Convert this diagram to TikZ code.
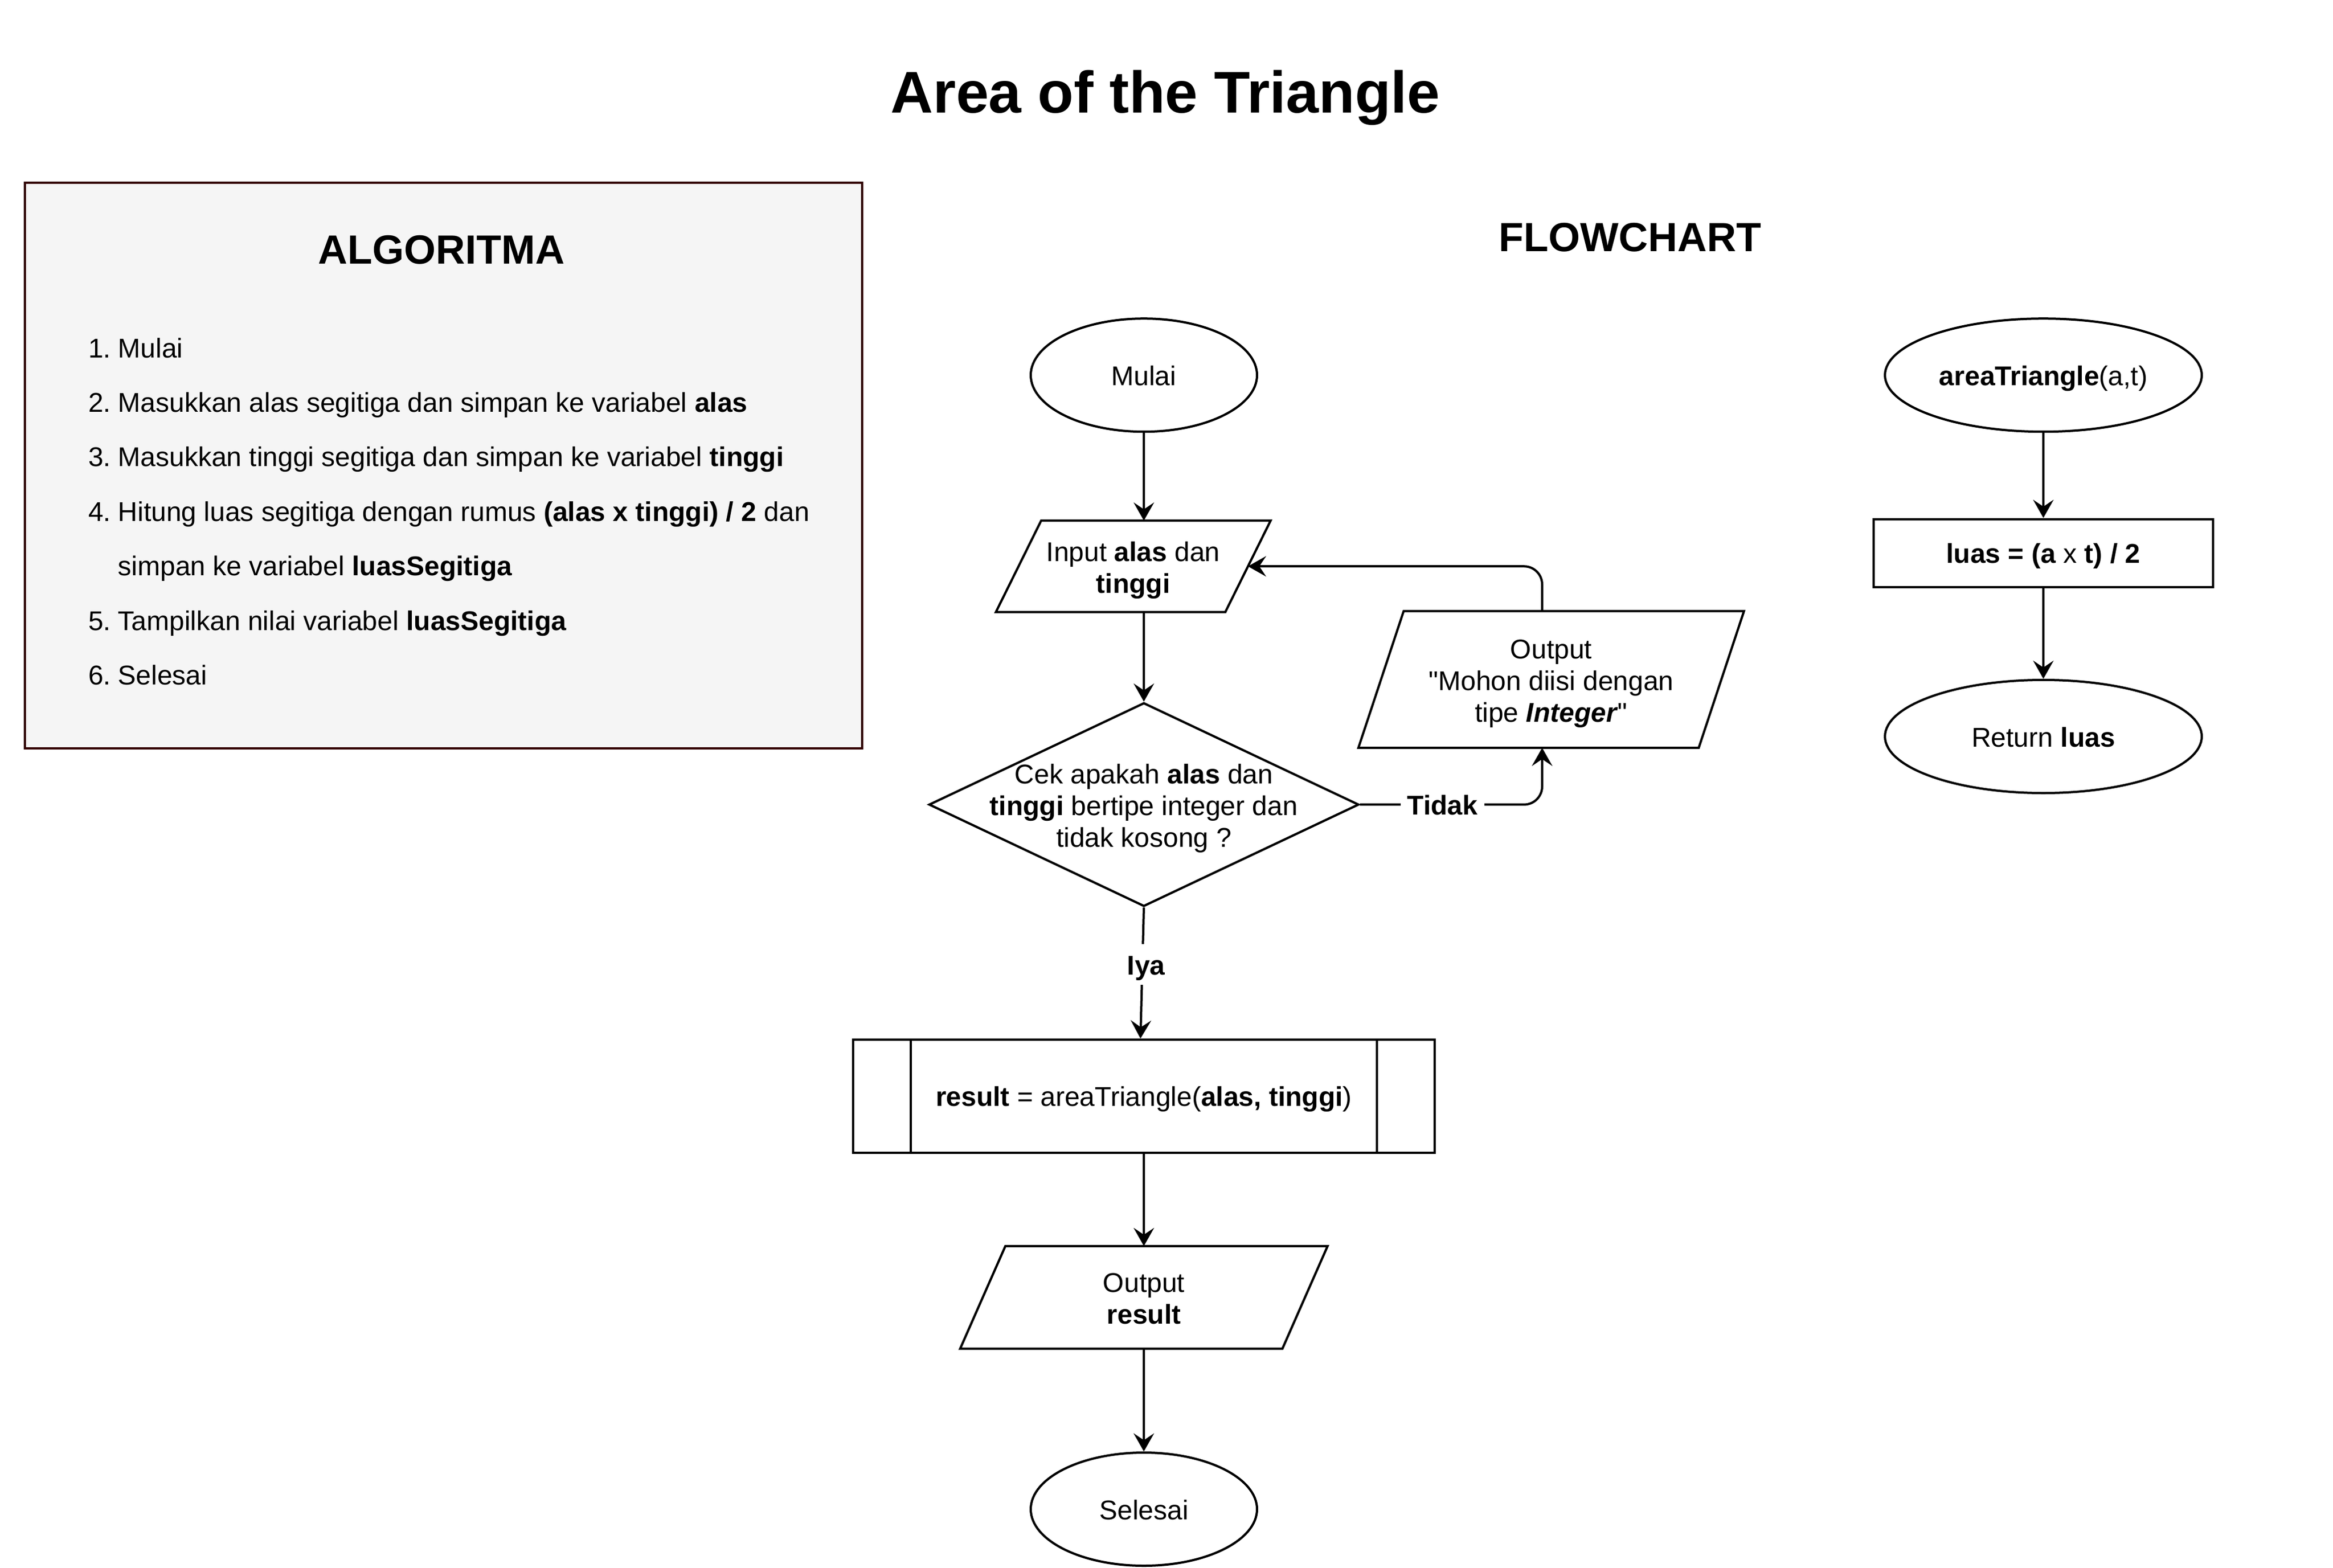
\documentclass[tikz,border=0pt]{standalone}
\usepackage{fontspec}
\setmainfont{Liberation Sans}
\usetikzlibrary{shapes.geometric, arrows.meta}
\definecolor{boxfill}{HTML}{F5F5F5}
\definecolor{boxline}{HTML}{330000}
\font\qfont="Liberation Sans" at 12pt
\newcommand\dq{{\qfont"}}
\newcommand\fstrut{\rule{0pt}{11.5pt}}
\newcommand\lstrut{\rule[-2.3pt]{0pt}{2.3pt}}
\begin{document}
\begin{tikzpicture}[x=1pt, y=-1pt,
  txtm/.style={font=\fontsize{12}{14}\selectfont, align=center, inner sep=0pt},
  txt/.style={font=\fontsize{12}{14}\selectfont, align=center,
    execute at begin node=\fstrut, execute at end node=\lstrut},
  heading/.style={font=\bfseries\fontsize{18}{22}\selectfont, inner sep=0pt, anchor=base},
  item/.style={font=\fontsize{12}{14}\selectfont, inner sep=0pt, anchor=base west},
  term/.style={txt, ellipse, draw, line width=1pt, inner sep=0pt, minimum width=100pt, minimum height=50pt},
  io/.style={inner sep=0pt},
  pline/.style={line width=1pt, line join=miter},
  procbox/.style={txt, draw, line width=1pt, inner sep=0pt},
  arr/.style={line width=1pt, -{Stealth[length=8pt, width=9pt, inset=3pt]}},
  lbl/.style={txt, fill=white, font=\bfseries\fontsize{12}{14}\selectfont, inner sep=3pt}
]
\useasboundingbox (0,0) rectangle (1031,693);

% title
\node[font=\bfseries\fontsize{26}{30}\selectfont, inner sep=0pt, anchor=base] (title) at (515,50) {Area of the Triangle};

% algorithm box
\node[draw=boxline, fill=boxfill, line width=1pt, minimum width=370pt, minimum height=250pt, inner sep=0pt, anchor=north west] (algbox) at (10.5,80.3) {};
\node[heading] (algtitle) at (195.2,116.5) {ALGORITMA};
\node[item] (n1) at (38.8,158.0) {1.};
\node[item] (t1) at (52,158.0) {Mulai};
\node[item] (n2) at (38.8,182.1) {2.};
\node[item] (t2) at (52,182.1) {Masukkan alas segitiga dan simpan ke variabel \textbf{alas}};
\node[item] (n3) at (38.8,206.2) {3.};
\node[item] (t3) at (52,206.2) {Masukkan tinggi segitiga dan simpan ke variabel \textbf{tinggi}};
\node[item] (n4) at (38.8,230.3) {4.};
\node[item] (t4) at (52,230.3) {Hitung luas segitiga dengan rumus \textbf{(alas x tinggi) / 2} dan};
\node[item] (t4b) at (52,254.4) {simpan ke variabel \textbf{luasSegitiga}};
\node[item] (n5) at (38.8,278.5) {5.};
\node[item] (t5) at (52,278.5) {Tampilkan nilai variabel \textbf{luasSegitiga}};
\node[item] (n6) at (38.8,302.6) {6.};
\node[item] (t6) at (52,302.6) {Selesai};

% flowchart heading
\node[heading] (fctitle) at (720.4,111) {FLOWCHART};

% main flow
\node[term] (mulai) at (505.5,165.8) {Mulai};

\node[io, minimum width=101pt, minimum height=40pt] (inp) at (500.8,250.3) {};
\draw[pline] ([xshift=10pt]inp.north west) -- ([xshift=10pt]inp.north east) -- ([xshift=-10pt]inp.south east) -- ([xshift=-10pt]inp.south west) -- cycle;
\node[txtm] (inptext) at ([yshift=-1.8pt]inp.center) {Input \textbf{alas} dan\\\textbf{tinggi}};

\node[diamond, draw, line width=1pt, minimum width=190pt, minimum height=90pt, inner sep=0pt] (dia) at (505.5,355.6) {};
\node[txtm] (diatext) at ([yshift=-1.6pt]dia.center) {Cek apakah \textbf{alas} dan\\\textbf{tinggi} bertipe integer dan\\tidak kosong ?};

\node[io, minimum width=150pt, minimum height=60pt] (out1) at (685.5,300.3) {};
\draw[pline] ([xshift=10pt]out1.north west) -- ([xshift=10pt]out1.north east) -- ([xshift=-10pt]out1.south east) -- ([xshift=-10pt]out1.south west) -- cycle;
\node[txtm] (out1text) at ([yshift=-1.8pt]out1.center) {Output\\\dq Mohon diisi dengan\\tipe \textbf{\textit{Integer}}\dq};

\node[procbox, minimum width=257pt, minimum height=50pt] (proc) at (505.5,484.5) {\textbf{result} = areaTriangle(\textbf{alas, tinggi})};
\draw[line width=1pt] ([xshift=26pt]proc.north west) -- ([xshift=26pt]proc.south west);
\draw[line width=1pt] ([xshift=-26pt]proc.north east) -- ([xshift=-26pt]proc.south east);

\node[io, minimum width=142pt, minimum height=45pt] (out2) at (505.5,573.4) {};
\draw[pline] ([xshift=10pt]out2.north west) -- ([xshift=10pt]out2.north east) -- ([xshift=-10pt]out2.south east) -- ([xshift=-10pt]out2.south west) -- cycle;
\node[txtm] (out2text) at ([yshift=-0.6pt]out2.center) {Output\\\textbf{result}};

\node[term] (selesai) at (505.5,667.0) {Selesai};

% connectors
\draw[arr] (mulai.south) -- (mulai.south |- inp.north);
\draw[arr] (dia.north |- inp.south) -- (dia.north);
\coordinate (tb) at ([xshift=-4pt]out1.south);
\coordinate (tt) at ([xshift=-4pt]out1.north);
\draw[arr, rounded corners=8pt] (dia.east) -- (dia.east -| tb) -- (tb);
\node[lbl] (tidak) at (637.5,355.6) {Tidak};
\draw[arr, rounded corners=8pt] (tt) |- (inp.east);
\draw[arr] (dia.south) -- ([xshift=-1.5pt]proc.north);
\node[lbl, inner sep=2pt] (iya) at (506.5,426.3) {Iya};
\draw[arr] (proc.south) -- (out2.north);
\draw[arr] (out2.south) -- (selesai.north);

% function
\node[term, minimum width=140pt] (fn) at (903,165.8) {\textbf{areaTriangle}(a,t)};
\node[procbox, minimum width=150pt, minimum height=30pt] (luas) at (903,244.4) {\textbf{luas = (a} x \textbf{t) / 2}};
\node[term, minimum width=140pt] (ret) at (903,325.5) {Return \textbf{luas}};
\draw[arr] (fn.south) -- (luas.north);
\draw[arr] (luas.south) -- (ret.north);
\end{tikzpicture}
\end{document}
